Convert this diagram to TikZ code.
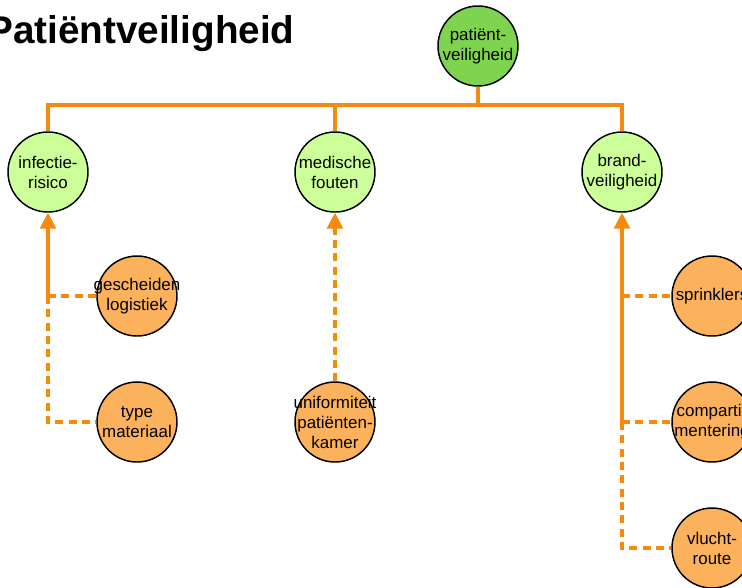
\documentclass[tikz,border=0pt]{standalone}
\usepackage{fontspec}
\setmainfont{Liberation Sans}
\usetikzlibrary{arrows.meta}
\definecolor{topgreen}{HTML}{7FD44F}
\definecolor{lightgreen}{HTML}{CCFF99}
\definecolor{softorange}{HTML}{FCB25C}
\definecolor{linkorange}{HTML}{F58A0F}
\tikzset{
  circ/.style={circle, draw=black, line width=1.1pt, minimum size=60pt, inner sep=0pt},
  topnode/.style={circ, fill=topgreen},
  midnode/.style={circ, fill=lightgreen},
  leafnode/.style={circ, fill=softorange},
  txt/.style={align=center, font=\fontsize{12.7pt}{15pt}\selectfont, inner sep=0pt},
  link/.style={draw=linkorange, line width=2.3pt},
  dashlink/.style={link, dash pattern=on 6pt off 4pt},
  tip/.style={-{Triangle[length=12pt,width=12pt]}}
}
\begin{document}
\begin{tikzpicture}[x=0.75pt,y=-0.75pt]
\useasboundingbox (0,0) rectangle (742,587);
\clip (0,0) rectangle (742,587);
\fill[white] (0,0) rectangle (742,587);

% title
\node[anchor=base west, inner sep=0pt, font=\fontsize{29pt}{32pt}\selectfont\bfseries] (title) at (-13,43) {Patiëntveiligheid};

% circles
\node[topnode] (top) at (478,46) {};
\node[midnode] (inf) at (48,172) {};
\node[midnode] (med) at (335,172) {};
\node[midnode] (brand) at (622,172) {};
\node[leafnode] (gesch) at (137,296) {};
\node[leafnode] (type) at (137,422) {};
\node[leafnode] (unif) at (335,422) {};
\node[leafnode] (sprink) at (712,296) {};
\node[leafnode] (comp) at (712,422) {};
\node[leafnode] (vlucht) at (712,548) {};

% top-level tree
\coordinate (bus) at (478,105);
\draw[link] (top.south) -- (bus);
\draw[link] (inf.north) |- (bus) -| (brand.north);
\draw[link] (med.north) -- (med.north |- bus);

% infection risk branch
\coordinate (j1) at (inf.south |- gesch.west);
\draw[link, tip] (j1) -- (inf.south);
\draw[dashlink] (j1) -- (gesch.west);
\draw[dashlink] (j1) |- (type.west);

% medical errors branch
\draw[dashlink, tip] (unif.north) -- (med.south);

% fire safety branch
\coordinate (j2) at (brand.south |- sprink.west);
\coordinate (j3) at (brand.south |- comp.west);
\draw[link, tip] (j3) -- (brand.south);
\draw[dashlink] (j2) -- (sprink.west);
\draw[dashlink] (j3) -- (comp.west);
\draw[dashlink] (j3) |- (vlucht.west);

% labels
\node[txt] (toptxt) at (top) {patiënt-\\veiligheid};
\node[txt] (inftxt) at (inf) {infectie-\\risico};
\node[txt] (medtxt) at (med) {medische\\fouten};
\node[txt] (brandtxt) at (brand) {brand-\\veiligheid};
\node[txt] (geschtxt) at (gesch) {gescheiden\\logistiek};
\node[txt] (typetxt) at (type) {type\\materiaal};
\node[txt] (uniftxt) at (unif) {uniformiteit\\patiënten-\\kamer};
\node[txt] (sprinktxt) at (sprink) {sprinklers};
\node[txt] (comptxt) at (comp) {comparti-\\mentering};
\node[txt] (vluchttxt) at (vlucht) {vlucht-\\route};
\end{tikzpicture}
\end{document}
